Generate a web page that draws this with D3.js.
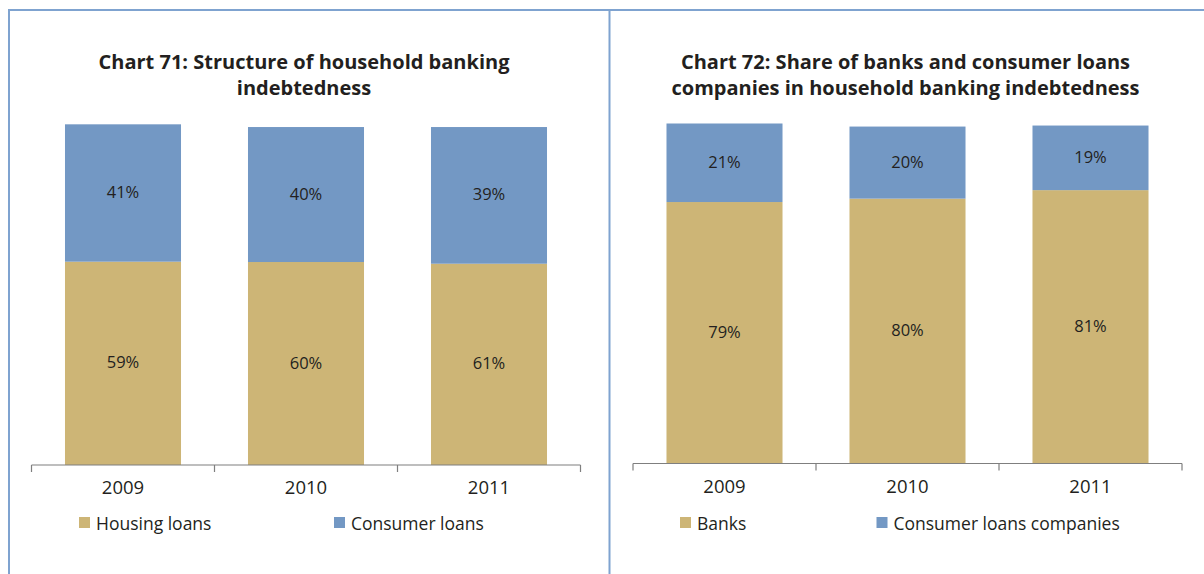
<meta charset="utf-8">
<style>
	body { margin: 0; background: #fff; }
	text { font-family: "Open Sans", "Noto Sans", sans-serif; fill: #231f20; }
	.title { font-weight: bold; font-size: 20px; }
	.tick-label { font-size: 18.5px; }
	.legend text { font-size: 17.5px; }
	.value { font-size: 16.5px; }
</style>
<body>
<svg id="svg"></svg>
<script src="https://cdn.jsdelivr.net/npm/d3@7/dist/d3.min.js"></script>
<script>

// DATA
var years = [ '2009', '2010', '2011' ]

// chart 71
var housing = [ 59.8, 59.7, 59.2 ]
var consumer = [ 40.4, 39.7, 40.2 ]
var housingLabels = [ '59%', '60%', '61%' ]
var consumerLabels = [ '41%', '40%', '39%' ]

// chart 72
var banks = [ 76.9, 77.9, 80.4 ]
var companies = [ 23.1, 21.2, 19.0 ]
var banksLabels = [ '79%', '80%', '81%' ]
var companiesLabels = [ '21%', '20%', '19%' ]

var colors = [ '#cdb576', '#7398c4' ]

// CANVAS
var width = 1204
var height = 574

var svg = d3.select( '#svg' )
	.attr( 'width', width )
	.attr( 'height', height )

// frame
var frame = svg.append( 'g' )
	.attr( 'stroke', '#7fa3d0' )
	.attr( 'stroke-width', 2 )
frame.append( 'line' ).attr( 'x1', 8 ).attr( 'x2', width ).attr( 'y1', 10 ).attr( 'y2', 10 )
frame.append( 'line' ).attr( 'x1', 9 ).attr( 'x2', 9 ).attr( 'y1', 10 ).attr( 'y2', height )
frame.append( 'line' ).attr( 'x1', 609.5 ).attr( 'x2', 609.5 ).attr( 'y1', 10 ).attr( 'y2', height )

function drawPanel( opts ){
	var g = svg.append( 'g' ).attr( 'transform', 'translate(' + opts.dx + ',0)' )

	// TITLE
	g.append( 'text' )
		.attr( 'class', 'title' )
		.attr( 'text-anchor', 'middle' )
		.selectAll( 'tspan' )
		.data( opts.title )
		.enter()
		.append( 'tspan' )
			.attr( 'x', 304 )
			.attr( 'y', ( d, i )=> 69 + i * 26 )
			.text( d => d )

	// SCALES
	var x = d3.scaleBand()
		.domain( years )
		.range([ 31.5, 580.5 ])
		.paddingInner( 0.366 )
		.paddingOuter( 0.183 )

	var y = d3.scaleLinear()
		.domain([ 0, 100 ])
		.range([ opts.base, opts.base - 340 ])

	var series = opts.series.map( ( s, k )=> {
		return years.map( ( yr, i )=> {
			let lo = 0
			for( let j = 0; j < k; j++ ) lo += opts.series[ j ][ i ]
			return { year: yr, lo: lo, hi: lo + s[ i ], label: opts.labels[ k ][ i ], color: colors[ k ] }
		})
	})

	// BARS
	series.forEach( s => {
		var bars = g.append( 'g' )
		bars.selectAll( 'rect' )
			.data( s )
			.enter()
			.append( 'rect' )
				.attr( 'x', d => x( d.year ))
				.attr( 'width', x.bandwidth() )
				.attr( 'y', d => y( d.hi ))
				.attr( 'height', d => y( d.lo ) - y( d.hi ))
				.attr( 'fill', d => d.color )

		bars.selectAll( 'text' )
			.data( s )
			.enter()
			.append( 'text' )
				.attr( 'class', 'value' )
				.attr( 'text-anchor', 'middle' )
				.attr( 'x', d => x( d.year ) + x.bandwidth() / 2 )
				.attr( 'y', d => ( y( d.lo ) + y( d.hi )) / 2 + 5 )
				.text( d => d.label )
	})

	// X AXIS (ticks between categories)
	var half = x.step() * x.paddingInner() / 2
	var edges = years.map( d => x( d ) - half )
	edges.push( x( years[ years.length - 1 ] ) + x.bandwidth() + half )

	var axis = g.append( 'g' ).attr( 'stroke', '#7f7f7f' ).attr( 'stroke-width', 1.2 )
	axis.append( 'line' )
		.attr( 'x1', edges[ 0 ] ).attr( 'x2', edges[ edges.length - 1 ] )
		.attr( 'y1', opts.base ).attr( 'y2', opts.base )
	axis.selectAll( '.tk' )
		.data( edges )
		.enter()
		.append( 'line' )
			.attr( 'x1', d => d ).attr( 'x2', d => d )
			.attr( 'y1', opts.base ).attr( 'y2', opts.base + 7 )

	g.append( 'g' ).selectAll( 'text' )
		.data( years )
		.enter()
		.append( 'text' )
			.attr( 'class', 'tick-label' )
			.attr( 'text-anchor', 'middle' )
			.attr( 'x', d => x( d ) + x.bandwidth() / 2 )
			.attr( 'y', opts.base + 29 )
			.text( d => d )

	// LEGEND
	var legend = g.append( 'g' ).attr( 'class', 'legend' )
	opts.legend.forEach( ( name, k )=> {
		legend.append( 'rect' )
			.attr( 'x', opts.legendX[ k ] )
			.attr( 'y', 517 )
			.attr( 'width', 11 )
			.attr( 'height', 11 )
			.attr( 'fill', colors[ k ] )
		legend.append( 'text' )
			.attr( 'x', opts.legendX[ k ] + 17 )
			.attr( 'y', 530 )
			.text( name )
	})
}

drawPanel({
	dx: 0,
	base: 465,
	title: [ 'Chart 71: Structure of household banking', 'indebtedness' ],
	series: [ housing, consumer ],
	labels: [ housingLabels, consumerLabels ],
	legend: [ 'Housing loans', 'Consumer loans' ],
	legendX: [ 79, 334 ]
})

drawPanel({
	dx: 601.5,
	base: 463.5,
	title: [ 'Chart 72: Share of banks and consumer loans', 'companies in household banking indebtedness' ],
	series: [ banks, companies ],
	labels: [ banksLabels, companiesLabels ],
	legend: [ 'Banks', 'Consumer loans companies' ],
	legendX: [ 78.5, 275 ]
})

</script>
</body>
